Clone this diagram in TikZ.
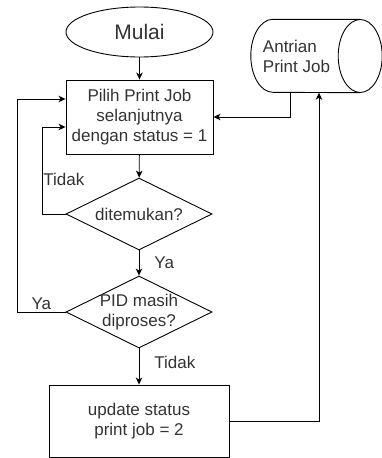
\documentclass[tikz,border=0pt]{standalone}
\usepackage{fontspec}
\setmainfont{Liberation Sans}
\usetikzlibrary{shapes.geometric, arrows.meta}

\begin{document}
\begin{tikzpicture}[x=1pt, y=-1pt,
    txt/.style={text=black!80, font=\fontsize{17}{20}\selectfont, align=center},
    terminal/.style={ellipse, draw, line width=0.9pt, minimum width=147pt, minimum height=50pt, inner sep=0pt, text=black!80, font=\fontsize{21}{25}\selectfont},
    process/.style={rectangle, draw, line width=0.9pt, inner sep=0pt, txt},
    decision/.style={diamond, draw, line width=0.9pt, inner sep=0pt, minimum width=146pt, minimum height=72pt},
    arr/.style={line width=0.9pt, -{Stealth[length=7pt, width=6.5pt, inset=2pt]}},
    lbl/.style={txt, inner sep=1pt}]

    \useasboundingbox (0,0) rectangle (381,458);

    \node[terminal] (mulai) at (139.5,32) {Mulai};
    \node[process, minimum width=147pt, minimum height=74pt] (pilih) at (139.5,117)
        {Pilih Print Job\\selanjutnya\\dengan status = 1};
    \node[decision, label={[txt]center:ditemukan?}] (cek1) at (139,214) {};
    \node[decision, label={[txt]center:PID masih\\diproses?}] (cek2) at (139,312) {};
    \node[process, minimum width=180pt, minimum height=72pt] (update) at (139,421)
        {update status\\print job = 2};

    % antrian print job (tabung)
    \node[inner sep=0pt, minimum width=131pt, minimum height=73pt,
        label={[txt, align=left, xshift=-20pt]center:Antrian\\Print Job}] (antrian) at (316.5,56) {};
    \draw[line width=0.9pt] ([xshift=-22pt]antrian.north east) -- ([xshift=22pt]antrian.north west)
        arc[start angle=270, delta angle=-180, x radius=22, y radius=36.5]
        -- ([xshift=-22pt]antrian.south east);
    \draw[line width=0.9pt] ([xshift=-22pt]antrian.east) ellipse[x radius=22, y radius=36.5];

    \coordinate (loop1) at (42,127);
    \coordinate (loop2) at (17,99);
    \coordinate (qout) at (290,0);
    \coordinate (qin) at (319,0);

    \draw[arr] (mulai) -- (pilih);
    \draw[arr] (pilih) -- (cek1);
    \draw[arr] (cek1) -- node[lbl, right, xshift=14pt] {Ya} (cek2);
    \draw[arr] (cek2) -- node[lbl, right, xshift=14pt, yshift=4pt] {Tidak} (update);

    \draw[arr] (cek1.west) -| node[lbl, pos=0.7, anchor=west] {Tidak} (loop1) -- (pilih.west |- loop1);
    \draw[arr] (cek2.west) -| node[lbl, pos=0.25, above, inner sep=2pt] {Ya} (loop2) -- (pilih.west |- loop2);

    \draw[arr] (qout |- antrian.south) |- (pilih.east);
    \draw[arr] (update.east) -| (qin |- antrian.south);

\end{tikzpicture}
\end{document}
